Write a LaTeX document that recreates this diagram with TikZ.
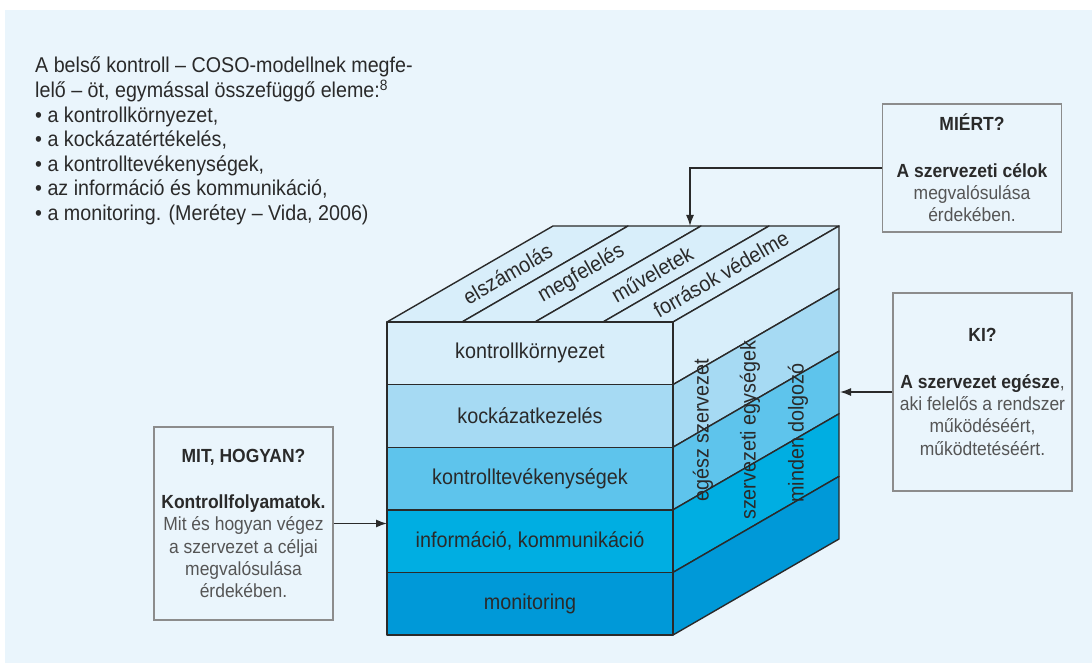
\documentclass[tikz,border=0pt]{standalone}
\usepackage{fontspec}
\setmainfont{Liberation Sans}[FakeStretch=0.92]
\usepackage{xcolor}
\usetikzlibrary{arrows.meta}

\definecolor{bgblue}{HTML}{EAF5FC}
\definecolor{layerA}{HTML}{D8EEFA}
\definecolor{layerB}{HTML}{A6DAF3}
\definecolor{layerC}{HTML}{5EC4EC}
\definecolor{layerD}{HTML}{00AEE2}
\definecolor{layerE}{HTML}{0099D8}
\definecolor{inkdark}{HTML}{2A2A2A}
\definecolor{inkgray}{HTML}{555555}
\definecolor{boxline}{HTML}{8C8C8C}

\tikzset{
  face/.style={draw=inkdark, line width=1.4pt, line join=round},
  cubetext/.style={text=inkdark, font=\fontsize{21.5}{24}\selectfont, inner sep=0pt},
  infobox/.style={draw=boxline, line width=1.5pt, fill=bgblue, text=inkgray,
    align=center, font=\fontsize{19}{22.3}\selectfont, minimum width=179pt},
  conn/.style={draw=inkdark, line width=1.4pt, -{Latex[length=11pt,width=8pt]}}
}

\begin{document}
\begin{tikzpicture}[x=1pt,y=-1pt]
        \useasboundingbox (0,0) rectangle (1092,663);
        \fill[bgblue] (5,10) rectangle (1092,663);

        % left text
        \node[anchor=north west, align=left, inner sep=0pt, text=inkdark,
              font=\fontsize{21.4}{24.6}\selectfont] (intro) at (35,57)
             {A belső kontroll -- COSO-modellnek megfe-\\
              lelő -- öt, egymással összefüggő eleme:\textsuperscript{8}\\
              \textbullet\ a kontrollkörnyezet,\\
              \textbullet\ a kockázatértékelés,\\
              \textbullet\ a kontrolltevékenységek,\\
              \textbullet\ az információ és kommunikáció,\\
              \textbullet\ a monitoring. (Merétey -- Vida, 2006)};

        % top face
        \filldraw[face, fill=layerA] (387,322) -- (462,322) -- (628,226) -- (553,226) -- cycle;
        \filldraw[face, fill=layerA] (462,322) -- (535,322) -- (701,226) -- (628,226) -- cycle;
        \filldraw[face, fill=layerA] (535,322) -- (603,322) -- (769,226) -- (701,226) -- cycle;
        \filldraw[face, fill=layerA] (603,322) -- (673,322) -- (839,226) -- (769,226) -- cycle;
        \node[cubetext, rotate=30] (acc) at (507.5,274) {elszámolás};
        \node[cubetext, rotate=30] (comp) at (581.5,274) {megfelelés};
        \node[cubetext, rotate=30] (ops) at (652,274) {műveletek};
        \node[cubetext, rotate=30] (res) at (721,274) {források védelme};

        % right face
        \filldraw[face, fill=layerA] (673,322) -- (673,384.6) -- (839,288.6) -- (839,226) -- cycle;
        \filldraw[face, fill=layerB] (673,384.6) -- (673,447.2) -- (839,351.2) -- (839,288.6) -- cycle;
        \filldraw[face, fill=layerC] (673,447.2) -- (673,509.8) -- (839,413.8) -- (839,351.2) -- cycle;
        \filldraw[face, fill=layerD] (673,509.8) -- (673,572.4) -- (839,476.4) -- (839,413.8) -- cycle;
        \filldraw[face, fill=layerE] (673,572.4) -- (673,635) -- (839,539) -- (839,476.4) -- cycle;
        \node[cubetext, rotate=90, anchor=west] (whole) at (703,502) {egész szervezet};
        \node[cubetext, rotate=90, anchor=west] (units) at (750,520) {szervezeti egységek};
        \node[cubetext, rotate=90, anchor=west] (staff) at (798,503) {minden dolgozó};

        % front face
        \filldraw[face, fill=layerA] (387,322) rectangle (673,384.6);
        \filldraw[face, fill=layerB] (387,384.6) rectangle (673,447.2);
        \filldraw[face, fill=layerC] (387,447.2) rectangle (673,509.8);
        \filldraw[face, fill=layerD] (387,509.8) rectangle (673,572.4);
        \filldraw[face, fill=layerE] (387,572.4) rectangle (673,635);
        \node[cubetext] (env) at (530,353.3) {kontrollkörnyezet};
        \node[cubetext] (risk) at (530,415.9) {kockázatkezelés};
        \node[cubetext] (act) at (530,478.5) {kontrolltevékenységek};
        \node[cubetext] (info) at (530,541.1) {információ, kommunikáció};
        \node[cubetext] (mon) at (530,603.7) {monitoring};

        % boxes
        \node[infobox, minimum height=128pt] (miert) at (972,168)
             {\textbf{\textcolor{inkdark}{MIÉRT?}}\\[24pt]
              \textbf{\textcolor{inkdark}{A szervezeti célok}}\\
              megvalósulása\\ érdekében.};
        \node[infobox, minimum height=198pt] (ki) at (982.5,392)
             {\textbf{\textcolor{inkdark}{KI?}}\\[24pt]
              \textbf{\textcolor{inkdark}{A szervezet egésze}},\\
              aki felelős a rendszer\\ működéséért,\\ működtetéséért.};
        \node[infobox, minimum height=193pt] (mit) at (243.5,523.5)
             {\textbf{\textcolor{inkdark}{MIT, HOGYAN?}}\\[24pt]
              \textbf{\textcolor{inkdark}{Kontrollfolyamatok.}}\\
              Mit és hogyan végez\\ a szervezet a céljai\\
              megvalósulása\\ érdekében.};

        % arrows
        \coordinate (toptip) at (690,226);
        \coordinate (kitip) at (840,392);
        \coordinate (mittip) at (387,523.5);
        \draw[conn] (miert.west) -| (toptip);
        \draw[conn] (ki.west) -- (kitip);
        \draw[conn] (mit.east) -- (mittip);
    \end{tikzpicture}
\end{document}
